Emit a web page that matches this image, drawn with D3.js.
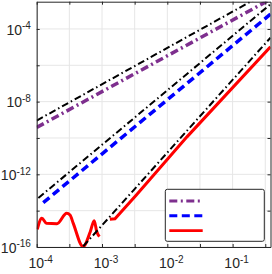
<!DOCTYPE html>
<html>
<head>
<meta charset="utf-8">
<script src="https://cdn.jsdelivr.net/npm/d3@7"></script>
<style>
  body { margin: 0; background: #fff; }
  text { font-family: "Liberation Sans", Arial, sans-serif; fill: #262626; }
</style>
</head>
<body>
<div id="chart"></div>
<script>
const margin = { top: 1.7, right: 1.5, bottom: 27, left: 36.7 };
const totalWidth = 272, totalHeight = 274;

// --- DATA ---
// purple dash-dot (2nd order)
const purpleH = [1e-4, 0.38];
const purpleE = [3.8e-10, 4.3e-3];
// blue dashed (3rd order)
const blueH = [1.26e-4, 0.38];
const blueE = [2.75e-14, 6.5e-4];
// red solid (4th order, roundoff floor at small h)
const redNoiseH = [1.02e-4, 1.20e-4, 1.41e-4, 2.04e-4, 2.88e-4, 3.24e-4, 3.63e-4, 5.13e-4,
                   6.61e-4, 7.59e-4, 8.32e-4, 9.12e-4];
const redNoiseE = [9.3e-16, 3.8e-15, 2.0e-15, 1.9e-15, 7.2e-15, 5.8e-15, 2.0e-15, 1.05e-16,
                   6.9e-16, 2.8e-15, 6.9e-16, 3.7e-16];
const redH = [1.32e-3, 1.58e-3, 3.33e-3, 2.0e-2, 0.38];
const redE = [3.4e-15, 3.6e-15, 7.1e-14, 1.15e-10, 1.05e-5];
// black dash-dot reference slopes
const ref2H = [1e-4, 0.38];
const ref2E = [9.1e-10, 1.3e-2];
const ref3H = [1.06e-4, 0.38];
const ref3E = [5.0e-14, 2.3e-3];
const ref4H = [5.16e-4, 0.38];
const ref4E = [1.1e-16, 3.3e-5];

// ticks (exponents)
const xTickExps = [-4, -3.5, -3, -2.5, -2, -1.5, -1, -0.5];
const xLabelExps = [-4, -3, -2, -1];
const yTickExps = [-16, -14, -12, -10, -8, -6, -4];
const yLabelExps = [-16, -12, -8, -4];

const width = totalWidth - margin.left - margin.right;
const height = totalHeight - margin.top - margin.bottom;

const root = d3.select("#chart").append("svg")
    .attr("width", totalWidth)
    .attr("height", totalHeight);

const svg = root.append("g")
    .attr("transform", `translate(${margin.left},${margin.top})`);

// --- SCALES ---
const xScale = d3.scaleLog().domain([1e-4, Math.pow(10, -0.42)]).range([0, width]);
const yScale = d3.scaleLog().domain([1e-16, Math.pow(10, -2.5)]).range([height, 0]);

// --- GRID ---
svg.append("g").selectAll("line").data(xTickExps).enter().append("line")
    .attr("x1", d => xScale(Math.pow(10, d))).attr("x2", d => xScale(Math.pow(10, d)))
    .attr("y1", 0).attr("y2", height)
    .style("stroke", "#e6e6e6").style("stroke-width", 1);
svg.append("g").selectAll("line").data(yTickExps).enter().append("line")
    .attr("y1", d => yScale(Math.pow(10, d))).attr("y2", d => yScale(Math.pow(10, d)))
    .attr("x1", 0).attr("x2", width)
    .style("stroke", "#e6e6e6").style("stroke-width", 1);

// --- LINES ---
svg.append("clipPath").attr("id", "clip")
    .append("rect").attr("width", width).attr("height", height);

const line = d3.line()
    .x(d => xScale(d[0]))
    .y(d => yScale(d[1]));
const smooth = d3.line()
    .curve(d3.curveMonotoneX)
    .x(d => xScale(d[0]))
    .y(d => yScale(d[1]));

const series = [
    { h: purpleH, e: purpleE, color: "#7e2f8e", w: 3.5, dash: "8,3.5,2,3.5" },
    { h: blueH, e: blueE, color: "#0000ff", w: 3.5, dash: "8,4.5" },
    { h: redH, e: redE, color: "#ff0000", w: 3, dash: null },
    { h: redNoiseH, e: redNoiseE, color: "#ff0000", w: 3, dash: null, smooth: true },
    { h: ref2H, e: ref2E, color: "#000", w: 2, dash: "7,3,1.5,3" },
    { h: ref3H, e: ref3E, color: "#000", w: 2, dash: "7,3,1.5,3" },
    { h: ref4H, e: ref4E, color: "#000", w: 2, dash: "7,3,1.5,3" }
];

svg.append("g").attr("clip-path", "url(#clip)")
    .selectAll("path").data(series).enter().append("path")
    .attr("d", s => (s.smooth ? smooth : line)(s.h.map((h, i) => [h, s.e[i]])))
    .style("fill", "none")
    .style("stroke", s => s.color)
    .style("stroke-width", s => s.w)
    .style("stroke-dasharray", s => s.dash);

// --- AXES (ticks inward, box on) ---
const axisColor = "#262626";
function ticks(axis) {
    axis.selectAll("path").style("stroke", axisColor);
    axis.selectAll("line").style("stroke", axisColor);
    axis.selectAll("text").remove();
}
const xVals = xTickExps.map(d => Math.pow(10, d));
const yVals = yTickExps.map(d => Math.pow(10, d));

svg.append("g").attr("transform", `translate(0,${height})`)
    .call(d3.axisBottom(xScale).tickValues(xVals).tickSize(-3).tickSizeOuter(0)).call(ticks);
svg.append("g")
    .call(d3.axisTop(xScale).tickValues(xVals).tickSize(-3).tickSizeOuter(0)).call(ticks);
svg.append("g")
    .call(d3.axisLeft(yScale).tickValues(yVals).tickSize(-3).tickSizeOuter(0)).call(ticks);
svg.append("g").attr("transform", `translate(${width},0)`)
    .call(d3.axisRight(yScale).tickValues(yVals).tickSize(-3).tickSizeOuter(0)).call(ticks);

// --- TICK LABELS ---
function powLabel(sel, exp) {
    sel.append("tspan").text("10");
    sel.append("tspan").attr("dy", -5.5).style("font-size", "10px").text(String(exp));
}
svg.append("g").selectAll("text").data(xLabelExps).enter().append("text")
    .attr("x", d => xScale(Math.pow(10, d)) + 4)
    .attr("y", height + 21.5)
    .attr("text-anchor", "middle")
    .style("font-size", "14px")
    .each(function(d) { powLabel(d3.select(this), d); });
svg.append("g").selectAll("text").data(yLabelExps).enter().append("text")
    .attr("x", -5.8)
    .attr("y", d => yScale(Math.pow(10, d)) + 5.7)
    .attr("text-anchor", "end")
    .style("font-size", "14px")
    .each(function(d) { powLabel(d3.select(this), d); });

// --- LEGEND (no labels) ---
const legX = 165.3 - margin.left, legY = 189.3 - margin.top;
const legend = svg.append("g").attr("transform", `translate(${legX},${legY})`);
legend.append("rect")
    .attr("width", 99).attr("height", 52).attr("rx", 2)
    .style("fill", "#fff").style("stroke", axisColor).style("stroke-width", 1);
legend.selectAll("line").data(series.slice(0, 3)).enter().append("line")
    .attr("x1", 4).attr("x2", 37.4)
    .attr("y1", (d, i) => 11.7 + i * 14.8).attr("y2", (d, i) => 11.7 + i * 14.8)
    .style("stroke", s => s.color)
    .style("stroke-width", s => s.w * 0.85)
    .style("stroke-dasharray", s => s.dash);
</script>
</body>
</html>
